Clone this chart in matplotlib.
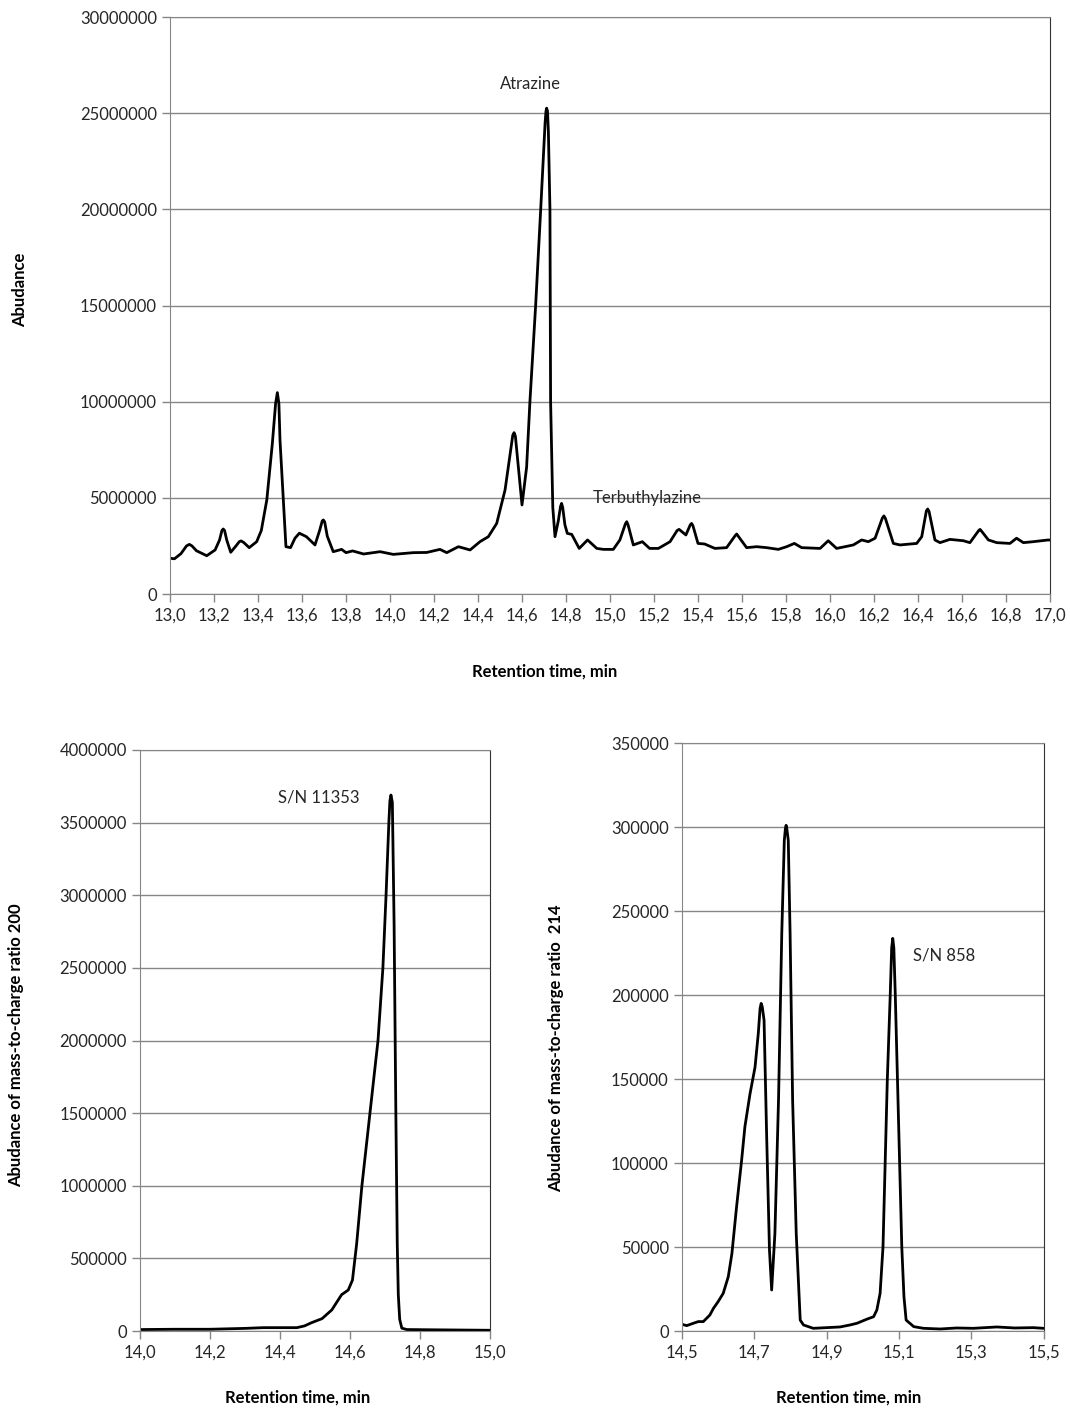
import numpy as np
import matplotlib
matplotlib.use("Agg")
import matplotlib.pyplot as plt
from matplotlib.ticker import FuncFormatter, MultipleLocator, FixedLocator

plt.rcParams['font.family'] = ['Lato', 'DejaVu Sans']

# Total ion chromatogram, 13-17 min (abundance in millions)
tic_time = [13.00, 13.02, 13.05, 13.075, 13.088, 13.10, 13.12, 13.167, 13.205, 13.225,
            13.236, 13.242, 13.248, 13.258, 13.276, 13.30, 13.315, 13.323, 13.335, 13.36,
            13.394, 13.415, 13.44, 13.465, 13.48, 13.488, 13.495, 13.50, 13.51, 13.527,
            13.548, 13.568, 13.588, 13.62, 13.659, 13.68, 13.692, 13.697, 13.703, 13.715,
            13.742, 13.78, 13.80, 13.83, 13.88, 13.955, 14.015, 14.106, 14.167, 14.227,
            14.258, 14.311, 14.364, 14.409, 14.447, 14.485, 14.523, 14.545, 14.558, 14.564,
            14.57, 14.58, 14.60, 14.621, 14.636, 14.662, 14.685, 14.705, 14.709, 14.712,
            14.716, 14.72, 14.727, 14.73, 14.74, 14.75, 14.765, 14.775, 14.78, 14.785,
            14.795, 14.806, 14.826, 14.86, 14.898, 14.94, 14.97, 15.015, 15.045, 15.07,
            15.076, 15.082, 15.106, 15.147, 15.18, 15.22, 15.273, 15.305, 15.314, 15.345,
            15.365, 15.371, 15.377, 15.40, 15.43, 15.477, 15.53, 15.57, 15.576, 15.582,
            15.621, 15.667, 15.712, 15.765, 15.803, 15.838, 15.871, 15.955, 15.992, 16.03,
            16.106, 16.144, 16.174, 16.205, 16.238, 16.245, 16.252, 16.288, 16.318, 16.394,
            16.417, 16.438, 16.444, 16.45, 16.477, 16.50, 16.545, 16.606, 16.636, 16.676,
            16.682, 16.688, 16.72, 16.758, 16.818, 16.848, 16.879, 16.924, 16.992, 17.0]
tic_abund = [1.86, 1.83, 2.10, 2.50, 2.58, 2.50, 2.25, 1.99, 2.29, 2.80,
             3.30, 3.38, 3.30, 2.80, 2.17, 2.50, 2.72, 2.76, 2.68, 2.41,
             2.72, 3.30, 4.89, 7.80, 9.90, 10.47, 9.90, 8.00, 5.93, 2.46,
             2.41, 2.90, 3.16, 2.98, 2.55, 3.30, 3.80, 3.85, 3.75, 3.00,
             2.20, 2.32, 2.15, 2.24, 2.08, 2.20, 2.06, 2.15, 2.16, 2.32,
             2.15, 2.46, 2.29, 2.72, 2.98, 3.67, 5.41, 7.20, 8.25, 8.39,
             8.20, 7.00, 4.63, 6.60, 10.0, 15.0, 20.0, 24.5, 25.1, 25.26,
             25.1, 24.0, 20.0, 10.0, 4.50, 2.98, 3.80, 4.55, 4.71, 4.50,
             3.60, 3.15, 3.10, 2.37, 2.81, 2.37, 2.32, 2.32, 2.81, 3.65,
             3.76, 3.60, 2.55, 2.72, 2.37, 2.37, 2.72, 3.30, 3.36, 3.07,
             3.60, 3.67, 3.55, 2.63, 2.60, 2.37, 2.41, 3.05, 3.12, 3.02,
             2.41, 2.46, 2.41, 2.32, 2.46, 2.63, 2.41, 2.37, 2.77, 2.37,
             2.55, 2.81, 2.72, 2.90, 3.95, 4.06, 3.92, 2.63, 2.55, 2.63,
             2.98, 4.32, 4.42, 4.30, 2.81, 2.67, 2.84, 2.77, 2.67, 3.30,
             3.36, 3.28, 2.81, 2.67, 2.63, 2.90, 2.67, 2.72, 2.81, 2.80]

# m/z 200 trace, 14-15 min (abundance in millions)
mz200_time = [14.0, 14.1, 14.2, 14.3, 14.352, 14.448, 14.47, 14.49, 14.52, 14.548,
              14.576, 14.595, 14.607, 14.619, 14.634, 14.657, 14.68, 14.694, 14.703, 14.711,
              14.714, 14.717, 14.721, 14.726, 14.731, 14.735, 14.738, 14.742, 14.748, 14.762,
              14.85, 15.0]
mz200_abund = [0.010, 0.012, 0.012, 0.018, 0.023, 0.023, 0.035, 0.057, 0.085, 0.145,
               0.250, 0.282, 0.350, 0.600, 1.000, 1.500, 2.000, 2.500, 3.000, 3.500,
               3.650, 3.690, 3.640, 2.800, 1.500, 0.600, 0.250, 0.080, 0.020, 0.010,
               0.008, 0.005]

# m/z 214 trace, 14.5-15.5 min (abundance in thousands)
mz214_time = [14.5, 14.513, 14.53, 14.545, 14.559, 14.577, 14.587, 14.60, 14.614, 14.628,
              14.638, 14.651, 14.665, 14.674, 14.688, 14.702, 14.711, 14.716, 14.719, 14.722,
              14.727, 14.734, 14.742, 14.748, 14.757, 14.767, 14.776, 14.783, 14.786, 14.788,
              14.790, 14.794, 14.799, 14.806, 14.816, 14.827, 14.836, 14.863, 14.90, 14.937,
              14.965, 14.984, 15.011, 15.03, 15.039, 15.048, 15.056, 15.062, 15.068, 15.076,
              15.080, 15.083, 15.086, 15.09, 15.096, 15.102, 15.108, 15.114, 15.12, 15.141,
              15.168, 15.214, 15.26, 15.306, 15.371, 15.42, 15.472, 15.5]
mz214_abund = [4.0, 3.2, 4.5, 5.6, 5.6, 9.5, 13.5, 17.5, 22.4, 32.3,
               46.0, 74.0, 101.8, 121.6, 141.0, 157.0, 177.0, 192.0, 195.0, 193.0,
               185.0, 117.7, 48.0, 24.4, 58.0, 137.5, 236.7, 292.0, 299.0, 301.0,
               299.0, 292.0, 236.7, 137.5, 58.0, 6.5, 3.6, 1.6, 2.0, 2.4,
               3.6, 4.6, 7.0, 8.5, 12.5, 22.4, 50.0, 100.0, 150.0, 200.0,
               228.0, 233.7, 228.0, 200.0, 150.0, 100.0, 50.0, 20.4, 6.5, 2.6,
               1.6, 1.2, 1.8, 1.6, 2.4, 1.8, 2.0, 1.6]

W, H = 1070, 1410
fig = plt.figure(figsize=(W / 100, H / 100), dpi=100)

def box(l, t, r, b):
    return [l / W, 1 - b / H, (r - l) / W, (b - t) / H]

grey = '#868686'
txt = '#262626'
comma = FuncFormatter(lambda v, p: f"{v:.1f}".replace('.', ','))
plain = FuncFormatter(lambda v, p: f"{int(round(v))}")

def style(ax, xmin, xmax, ymax, ystep):
    ax.set_xlim(xmin, xmax)
    ax.set_ylim(0, ymax)
    ax.xaxis.set_major_locator(FixedLocator(np.round(np.arange(xmin, xmax + 0.01, 0.2), 1)))
    ax.yaxis.set_major_locator(MultipleLocator(ystep))
    ax.xaxis.set_major_formatter(comma)
    ax.yaxis.set_major_formatter(plain)
    ax.grid(axis='y', color=grey, linewidth=1)
    ax.set_axisbelow(True)
    for s in ['left', 'bottom', 'top']:
        ax.spines[s].set_color(grey)
    ax.spines['right'].set_color('#333333')
    ax.tick_params(axis='both', colors=grey, labelcolor=txt, labelsize=12,
                   direction='out', length=6, width=1)
    ax.tick_params(axis='x', pad=4)

line_kw = dict(color='black', lw=2, solid_joinstyle='round', solid_capstyle='round')

# top: TIC
ax1 = fig.add_axes(box(170, 17, 1050, 594))
ax1.plot(tic_time, np.array(tic_abund) * 1e6, **line_kw)
style(ax1, 13.0, 17.0, 30e6, 5e6)
ax1.text(14.64, 26.5e6, 'Atrazine', fontsize=12, color=txt, ha='center', va='center')
ax1.text(14.923, 5.0e6, 'Terbuthylazine', fontsize=12, color=txt, ha='left', va='center')

# bottom left: m/z 200
ax2 = fig.add_axes(box(140, 750, 490, 1331))
ax2.plot(mz200_time, np.array(mz200_abund) * 1e6, **line_kw)
style(ax2, 14.0, 15.0, 4e6, 5e5)
ax2.text(14.394, 3.67e6, 'S/N 11353', fontsize=12, color=txt, ha='left', va='center')

# bottom right: m/z 214
ax3 = fig.add_axes(box(682, 743, 1043.5, 1331))
ax3.plot(mz214_time, np.array(mz214_abund) * 1e3, **line_kw)
style(ax3, 14.5, 15.5, 350e3, 5e4)
ax3.text(15.139, 223.8e3, 'S/N 858', fontsize=12, color=txt, ha='left', va='center')

# axis titles
fig.text(545 / W, 1 - 672 / H, 'Retention time, min', fontsize=12, fontweight='bold',
         color='black', ha='center', va='center')
fig.text(20 / W, 1 - 290 / H, 'Abudance', fontsize=12, fontweight='bold',
         color='black', ha='center', va='center', rotation=90)
fig.text(298 / W, 1 - 1398 / H, 'Retention time, min', fontsize=12, fontweight='bold',
         color='black', ha='center', va='center')
fig.text(849 / W, 1 - 1398 / H, 'Retention time, min', fontsize=12, fontweight='bold',
         color='black', ha='center', va='center')
fig.text(16 / W, 1 - 1045 / H, 'Abudance of mass-to-charge ratio 200', fontsize=12,
         fontweight='bold', color='black', ha='center', va='center', rotation=90)
fig.text(556 / W, 1 - 1048 / H, 'Abudance of mass-to-charge ratio  214', fontsize=12,
         fontweight='bold', color='black', ha='center', va='center', rotation=90)

fig.savefig('out.png', dpi=100, facecolor='white')
